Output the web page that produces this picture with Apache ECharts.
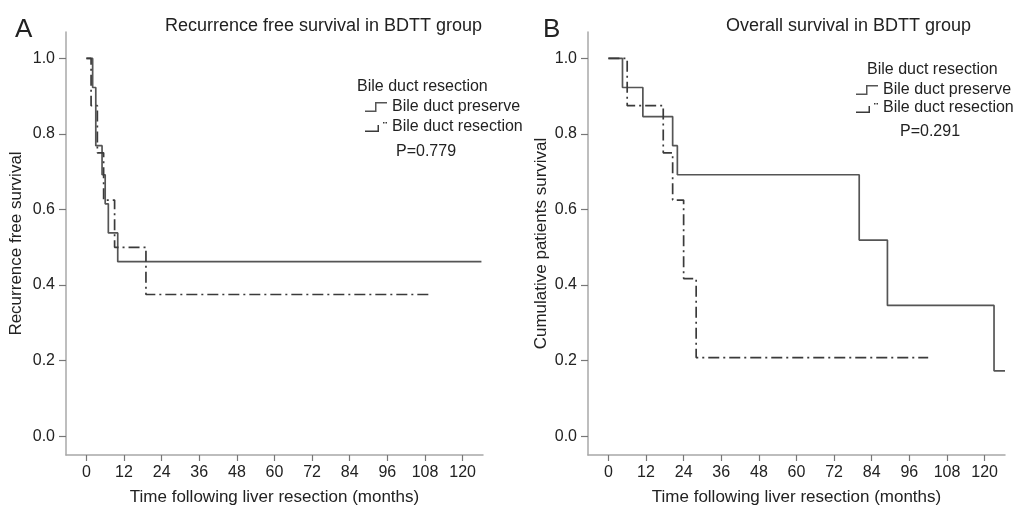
<!DOCTYPE html>
<html>
<head>
<meta charset="utf-8">
<script src="https://cdn.jsdelivr.net/npm/echarts@6/dist/echarts.min.js"></script>
<style>
  html, body { margin: 0; padding: 0; background: #fff; }
  #abc { width: 1030px; height: 507px; }
</style>
</head>
<body>
<div id="abc"></div>
<script>
// data (months, survival)
let xTicks = [0, 12, 24, 36, 48, 60, 72, 84, 96, 108, 120]
let yTicks = [0, 0.2, 0.4, 0.6, 0.8, 1.0]

let rfsPreserveT = [0, 2, 3, 5, 6, 7, 10, 126]
let rfsPreserveS = [1, 0.923, 0.769, 0.692, 0.615, 0.538, 0.462, 0.462]
let rfsResectT = [0, 1.5, 3.5, 5.5, 9, 19, 110]
let rfsResectS = [1, 0.875, 0.75, 0.625, 0.5, 0.375, 0.375]

let osPreserveT = [0, 4.5, 11, 20.5, 22, 80, 89, 123, 126.5]
let osPreserveS = [1, 0.923, 0.846, 0.769, 0.692, 0.519, 0.346, 0.173, 0.173]
let osResectT = [0, 6, 17.5, 20.5, 24, 28, 102]
let osResectS = [1, 0.875, 0.75, 0.625, 0.417, 0.208, 0.208]

function pairs(t, s) {
    let out = []
    for (let i in t) out.push([t[i], s[i]])
    return out
}

let font = "'Liberation Sans', Arial, sans-serif"
let axisGrey = '#a8a8a8'
let solidColor = '#555'
let dashColor = '#3a3a3a'
let dashPattern = [11, 4, 2, 4]

let iconPreserve = 'path://M0,8.5 L10,8.5 L10,0 L22,0 L22,1.5 L11.5,1.5 L11.5,10 L0,10 Z'
let iconResect = 'path://M0,8.5 L12.5,8.5 L12.5,3 L14,3 L14,10 L0,10 Z M18,0 L19.5,0 L19.5,1.5 L18,1.5 Z M20.5,0 L22,0 L22,1.5 L20.5,1.5 Z'

function xAxisFor(idx) {
    return {
        gridIndex: idx,
        type: 'value',
        min: -6.5,
        max: 126.5,
        axisLine: { onZero: false, lineStyle: { color: axisGrey, width: 1.5 } },
        axisTick: { customValues: xTicks, length: 6, lineStyle: { color: '#777', width: 1.2 } },
        axisLabel: { customValues: xTicks, margin: 10, fontSize: 16, color: '#222', fontFamily: font },
        splitLine: { show: false },
        name: 'Time following liver resection (months)',
        nameLocation: 'middle',
        nameGap: 34,
        nameTextStyle: { fontSize: 17, color: '#222', fontFamily: font }
    }
}

function yAxisFor(idx, name, gap) {
    return {
        gridIndex: idx,
        type: 'value',
        min: -0.05,
        max: 1.07,
        axisLine: { onZero: false, lineStyle: { color: axisGrey, width: 1.5 } },
        axisTick: { customValues: yTicks, length: 7, lineStyle: { color: '#777', width: 1.2 } },
        axisLabel: {
            customValues: yTicks, margin: 11, fontSize: 16, color: '#222', fontFamily: font,
            formatter: function (v) { return v.toFixed(1) }
        },
        splitLine: { show: false },
        name: name,
        nameLocation: 'middle',
        nameGap: gap,
        nameTextStyle: { fontSize: 17, color: '#222', fontFamily: font }
    }
}

function kmSeries(name, idx, data, color, dashed) {
    return {
        name: name,
        type: 'line',
        step: 'end',
        xAxisIndex: idx,
        yAxisIndex: idx,
        showSymbol: false,
        symbol: 'none',
        silent: true,
        lineStyle: { color: color, width: 1.7, type: dashed ? dashPattern : 'solid' },
        itemStyle: { color: color },
        data: data
    }
}

function textBox(text, left, top, size) {
    return { text: text, left: left, top: top, textStyle: { fontSize: size, fontWeight: 'normal', color: '#222', fontFamily: font } }
}

function legendFor(left, top, gap) {
    return {
        orient: 'vertical', left: left, top: top, itemGap: gap,
        itemWidth: 22, itemHeight: 10,
        symbolKeepAspect: false,
        textStyle: { fontSize: 16, lineHeight: 16, color: '#222', fontFamily: font },
        data: [
            { name: 'Bile duct preserve', icon: iconPreserve, itemStyle: { color: solidColor } },
            { name: 'Bile duct resection', icon: iconResect, itemStyle: { color: dashColor } }
        ]
    }
}

let myChart = echarts.init(document.getElementById('abc'), null, { renderer: 'canvas' })

let option = {
    backgroundColor: '#fff',
    animation: false,
    title: [
        textBox('A', 10, 12, 26),
        textBox('B', 538, 12, 26),
        textBox('Recurrence free survival in BDTT group', 160, 12, 18),
        textBox('Overall survival in BDTT group', 721, 12, 18),
        textBox('Bile duct resection', 352, 74, 16),
        textBox('Bile duct resection', 862, 57, 16),
        textBox('P=0.779', 391, 139, 16),
        textBox('P=0.291', 895, 119, 16)
    ],
    grid: [
        { left: 66, top: 32, width: 417, height: 423, outerBoundsMode: 'none' },
        { left: 588, top: 32, width: 417, height: 423, outerBoundsMode: 'none' }
    ],
    legend: [legendFor(360, 94, 4), legendFor(851, 77, 2)],
    xAxis: [xAxisFor(0), xAxisFor(1)],
    yAxis: [
        yAxisFor(0, 'Recurrence free survival', 41),
        yAxisFor(1, 'Cumulative patients survival', 38)
    ],
    series: [
        kmSeries('Bile duct preserve', 0, pairs(rfsPreserveT, rfsPreserveS), solidColor, false),
        kmSeries('Bile duct resection', 0, pairs(rfsResectT, rfsResectS), dashColor, true),
        kmSeries('Bile duct preserve', 1, pairs(osPreserveT, osPreserveS), solidColor, false),
        kmSeries('Bile duct resection', 1, pairs(osResectT, osResectS), dashColor, true)
    ]
}

myChart.setOption(option)
</script>
</body>
</html>
